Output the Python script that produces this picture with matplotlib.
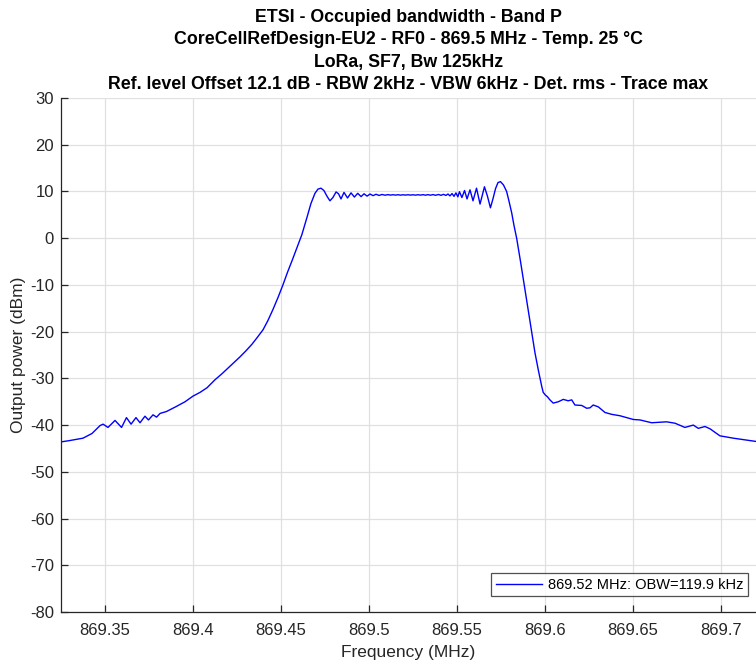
import matplotlib
matplotlib.use("Agg")
import matplotlib.pyplot as plt

title_lines = [
    "ETSI - Occupied bandwidth - Band P",
    "CoreCellRefDesign-EU2 - RF0 - 869.5 MHz - Temp. 25 °C",
    "LoRa, SF7, Bw 125kHz",
    "Ref. level Offset 12.1 dB - RBW 2kHz - VBW 6kHz - Det. rms - Trace max",
]
legend_label = "869.52 MHz: OBW=119.9 kHz"
x_ticks = [869.35, 869.4, 869.45, 869.5, 869.55, 869.6, 869.65, 869.7]
x_tick_labels = ["869.35", "869.4", "869.45", "869.5", "869.55", "869.6", "869.65", "869.7"]
y_ticks = [30, 20, 10, 0, -10, -20, -30, -40, -50, -60, -70, -80]

freq_mhz = [
    869.3250, 869.3301, 869.3375, 869.3426, 869.3472, 869.3489, 869.3517, 869.3557,
    869.3594, 869.3622, 869.3648, 869.3676, 869.3699, 869.3727, 869.3747, 869.3773,
    869.3793, 869.3813, 869.3849, 869.3906, 869.3955, 869.4000, 869.4040, 869.4080,
    869.4125, 869.4165, 869.4199, 869.4233, 869.4267, 869.4301, 869.4335, 869.4364,
    869.4398, 869.4426, 869.4455, 869.4483, 869.4511, 869.4537, 869.4565, 869.4591,
    869.4619, 869.4648, 869.4670, 869.4693, 869.4710, 869.4727, 869.4744, 869.4761,
    869.4778, 869.4795, 869.4813, 869.4827, 869.4841, 869.4858, 869.4878, 869.4898,
    869.4917, 869.4936, 869.4955, 869.4972, 869.4989, 869.5006, 869.5023, 869.5040,
    869.5057, 869.5074, 869.5091, 869.5108, 869.5122, 869.5136, 869.5151, 869.5165,
    869.5179, 869.5193, 869.5207, 869.5222, 869.5236, 869.5250, 869.5264, 869.5278,
    869.5293, 869.5307, 869.5321, 869.5335, 869.5349, 869.5364, 869.5378, 869.5395,
    869.5409, 869.5423, 869.5437, 869.5449, 869.5460, 869.5472, 869.5483, 869.5494,
    869.5505, 869.5514, 869.5528, 869.5543, 869.5557, 869.5574, 869.5591, 869.5611,
    869.5631, 869.5656, 869.5673, 869.5690, 869.5705, 869.5719, 869.5733, 869.5747,
    869.5764, 869.5782, 869.5795, 869.5811, 869.5824, 869.5839, 869.5861, 869.5882,
    869.5903, 869.5924, 869.5943, 869.5962, 869.5972, 869.5982, 869.5990, 869.6003,
    869.6013, 869.6028, 869.6047, 869.6076, 869.6104, 869.6132, 869.6152, 869.6170,
    869.6209, 869.6237, 869.6256, 869.6274, 869.6303, 869.6341, 869.6379, 869.6426,
    869.6473, 869.6502, 869.6540, 869.6606, 869.6691, 869.6739, 869.6795, 869.6843,
    869.6871, 869.6909, 869.6938, 869.6994, 869.7070, 869.7146, 869.7199,
]
power_dbm = [
    -43.6, -43.3, -42.8, -41.8, -40.1, -39.8, -40.5, -39.0,
    -40.5, -38.4, -39.8, -38.4, -39.5, -38.1, -38.9, -37.8,
    -38.3, -37.5, -37.1, -36.0, -35.0, -33.8, -33.0, -32.0,
    -30.3, -29.0, -27.8, -26.6, -25.4, -24.1, -22.7, -21.3,
    -19.6, -17.6, -15.2, -12.7, -10.0, -7.3, -4.6, -2.0,
    0.8, 4.5, 7.4, 9.6, 10.5, 10.7, 10.2, 9.0,
    8.0, 8.7, 9.9, 9.5, 8.4, 9.8, 8.6, 9.7,
    8.8, 9.6, 8.9, 9.5, 9.0, 9.45, 9.1, 9.4,
    9.15, 9.35, 9.2, 9.32, 9.22, 9.3, 9.22, 9.3,
    9.21, 9.29, 9.22, 9.3, 9.22, 9.29, 9.21, 9.3,
    9.22, 9.31, 9.2, 9.32, 9.2, 9.33, 9.18, 9.35,
    9.17, 9.38, 9.15, 9.45, 9.05, 9.55, 8.95, 9.7,
    8.85, 9.95, 8.7, 10.2, 8.4, 10.35, 8.0, 10.7,
    7.3, 11.0, 9.0, 6.5, 8.5, 10.6, 11.9, 12.1,
    11.4, 10.0, 8.0, 5.4, 2.7, 0.0, -5.0, -10.0,
    -15.0, -20.0, -24.5, -28.2, -30.0, -31.8, -33.0, -33.6,
    -33.9, -34.6, -35.3, -35.0, -34.5, -34.8, -34.6, -35.7,
    -35.8, -36.4, -36.3, -35.7, -36.1, -37.3, -37.7, -38.0,
    -38.5, -38.8, -38.9, -39.5, -39.3, -39.6, -40.5, -40.0,
    -40.7, -40.3, -40.8, -42.3, -42.8, -43.2, -43.5,
]

plt.rcParams['font.family'] = ['Liberation Sans', 'DejaVu Sans']
plt.rcParams['axes.unicode_minus'] = False
text_color = "#262626"

W, H = 756, 664
fig = plt.figure(figsize=(W / 100, H / 100), dpi=100)
ax_left, ax_right, ax_top, ax_bottom = 61, 756, 98, 612
ax = fig.add_axes([ax_left / W, 1 - ax_bottom / H, (ax_right - ax_left) / W, (ax_bottom - ax_top) / H])

ax.plot(freq_mhz, power_dbm, color=(0, 0, 1), linewidth=1.0, label=legend_label)

ax.set_xlim(869.3250, 869.7199)
ax.set_ylim(-80, 30)
ax.set_xticks(x_ticks)
ax.set_xticklabels(x_tick_labels)
ax.set_yticks(y_ticks)
ax.grid(True, color="#e0e0e0", linewidth=0.9)
ax.set_axisbelow(True)

for side in ("top", "right"):
    ax.spines[side].set_visible(False)
for side in ("left", "bottom"):
    ax.spines[side].set_color(text_color)
    ax.spines[side].set_linewidth(0.9)
ax.tick_params(direction="in", length=5, width=0.9, colors=text_color, labelsize=12)
ax.tick_params(axis="x", pad=8)
ax.tick_params(axis="y", pad=5)

ax.set_xlabel("Frequency (MHz)", fontsize=12.5, color=text_color, labelpad=5)
ax.set_ylabel("Output power (dBm)", fontsize=12.5, color=text_color)
ax.yaxis.set_label_coords((26 - ax_left) / (ax_right - ax_left), 0.5)

cx = (ax_left + ax_right) / 2 / W
for i, line in enumerate(title_lines):
    fig.text(cx, 1 - (17 + 22.5 * i) / H, line, ha="center", va="center",
             fontsize=12.75, fontweight="bold", color="black")

leg = ax.legend(loc="lower right", bbox_to_anchor=((748 - ax_left) / (ax_right - ax_left), (612 - 596) / (612 - 98)),
                fontsize=10.5, frameon=True, fancybox=False, handlelength=3.2,
                borderpad=0.3, borderaxespad=0, handletextpad=0.4)
leg.get_frame().set_edgecolor(text_color)
leg.get_frame().set_linewidth(0.9)

fig.savefig("out.png", dpi=100, facecolor="white")
